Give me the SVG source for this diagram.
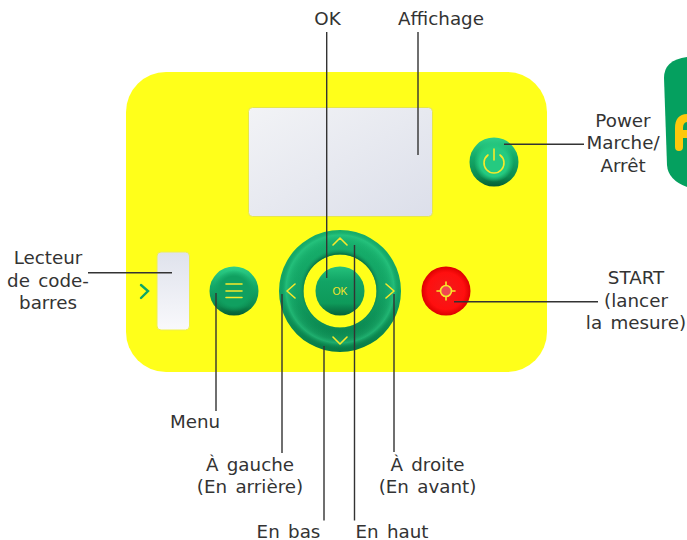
<svg xmlns="http://www.w3.org/2000/svg" width="687" height="540" viewBox="0 0 687 540">
<style>
.t{font-family:"DejaVu Sans",Verdana,sans-serif;font-size:18.300px;fill:#333;text-anchor:middle;word-spacing:2.500px}
.l{stroke:#333;stroke-width:1.4;fill:none}
.y{stroke:#f7e92a;stroke-width:1.6;fill:none;stroke-linecap:round;stroke-linejoin:round}
</style>
<defs>
<linearGradient id="b" x1="0" y1="0" x2="0" y2="1"><stop offset="0" stop-color="#2ed088"/><stop offset=".4" stop-color="#14a968"/><stop offset=".8" stop-color="#0c8a50"/><stop offset="1" stop-color="#055c33"/></linearGradient>
<radialGradient id="g" cx="50%" cy="50%" r="50%"><stop offset="0" stop-color="#10a060"/><stop offset=".7" stop-color="#10a060"/><stop offset="1" stop-color="#10a060" stop-opacity="0"/></radialGradient>
<radialGradient id="p" cx="50%" cy="50%" r="50%"><stop offset="0" stop-color="#25ca80"/><stop offset=".72" stop-color="#25ca80"/><stop offset="1" stop-color="#25ca80" stop-opacity="0"/></radialGradient>
<linearGradient id="ok" x1="0" y1="0" x2="0" y2="1"><stop offset="0" stop-color="#24c27c"/><stop offset=".3" stop-color="#12a465"/><stop offset=".75" stop-color="#0e9a5a"/><stop offset="1" stop-color="#06613a"/></linearGradient>
<radialGradient id="r" cx="50%" cy="50%" r="50%"><stop offset="0" stop-color="#f01c1c"/><stop offset=".75" stop-color="#ff0f0f"/><stop offset="1" stop-color="#dd0000"/></radialGradient>
<linearGradient id="ringb" x1="0" y1="0" x2="0" y2="1"><stop offset="0" stop-color="#17b06c"/><stop offset=".5" stop-color="#12a263"/><stop offset="1" stop-color="#087a46"/></linearGradient>
<radialGradient id="rings" gradientUnits="userSpaceOnUse" cx="340" cy="289" r="60"><stop offset=".58" stop-color="#05633a" stop-opacity=".85"/><stop offset=".68" stop-color="#12a565" stop-opacity="0"/><stop offset=".84" stop-color="#30d28a" stop-opacity=".25"/><stop offset=".9" stop-color="#30d28a" stop-opacity=".55"/><stop offset="1" stop-color="#0a8a50" stop-opacity="0"/></radialGradient>
<linearGradient id="d" x1="0" y1="0" x2="1" y2="1"><stop offset="0" stop-color="#f2f3f6"/><stop offset="1" stop-color="#dcdfea"/></linearGradient>
<linearGradient id="s" x1="0" y1="0" x2="0" y2="1"><stop offset="0" stop-color="#dfe2ec"/><stop offset="1" stop-color="#f9f9fc"/></linearGradient>
</defs>
<g id="panel"><rect x="126" y="72" width="421" height="300" rx="40" fill="#ffff1a"/></g>
<g id="logo"><path d="M687 57Q664 60 664 78L667 165Q668 180 687 187Z" fill="#05a05f"/><path d="M679 147V128Q679 118 688 118M679 134H688" fill="none" stroke="#fdc80c" stroke-width="8" stroke-linecap="round"/></g>
<g id="display"><rect x="248.500" y="107.500" width="184" height="109" rx="4" fill="url(#d)" stroke="#e6e64a"/></g>
<g id="scanner"><rect x="157" y="252" width="32.500" height="78" rx="4" fill="url(#s)" stroke="#f0f04a"/><path d="M141 285L148 291L141 298" fill="none" stroke="#0da765" stroke-width="2.400" stroke-linecap="round"/></g>
<g id="btn-menu"><circle cx="234" cy="291" r="24.500" fill="url(#b)"/><circle cx="234" cy="291" r="21" fill="url(#g)"/><path class="y" d="M226 284H242M226 291H242M226 297.500H242"/></g>
<g id="btn-ring"><path d="M340 230a61 61 0 1 0 .01 0ZM340 254.500a36.500 36.500 0 1 1 -.01 0Z" fill="url(#ringb)" fill-rule="evenodd"/><path d="M340 230a61 61 0 1 0 .01 0ZM340 254.500a36.500 36.500 0 1 1 -.01 0Z" fill="url(#rings)" fill-rule="evenodd"/>
<path class="y" d="M333 245L340 238L347 245M295 284L287 291L295 298M386 284L394 291L386 298M333 337L340 344L347 337"/></g>
<g id="btn-ok"><circle cx="340" cy="291" r="24.500" fill="url(#ok)"/><text x="340" y="294.500" text-anchor="middle" font-family="'Liberation Sans',Arial,sans-serif" font-size="10.500" fill="#f2e52a">OK</text></g>
<g id="btn-start"><circle cx="446" cy="291" r="24.500" fill="url(#r)"/><circle cx="446" cy="291" r="5.500" fill="#f0474f" stroke="#f7e92a" stroke-width="1.600"/><path class="y" d="M437 291H440.500M451.500 291H455M446 282V285.500M446 296.500V300"/></g>
<g id="btn-power"><circle cx="494" cy="162" r="24.500" fill="url(#b)"/><circle cx="494" cy="162" r="20" fill="url(#p)"/><path class="y" d="M488 155A10 10 0 1 0 500 155M494 149V160"/></g>
<g id="connectors">
<path class="l" d="M326.700 32V278M418 32V155M504 144.300H584M88 272.700H172M216 293V411M282 294V453M324 346V520.500M354.500 245V520.500M394 294V452M454 301.700H598"/>
</g>
<g id="labels">
<text class="t" x="327.500" y="25">OK</text>
<text class="t" x="441" y="25">Affichage</text>
<text class="t" x="623" y="127">Power</text>
<text class="t" x="623" y="149">Marche/</text>
<text class="t" x="623" y="172">Arrêt</text>
<text class="t" x="48" y="264">Lecteur</text>
<text class="t" x="48" y="287">de code-</text>
<text class="t" x="48" y="309">barres</text>
<text class="t" x="636" y="284">START</text>
<text class="t" x="636" y="307">(lancer</text>
<text class="t" x="636" y="329">la mesure)</text>
<text class="t" x="195" y="428">Menu</text>
<text class="t" x="250" y="471">À gauche</text>
<text class="t" x="250" y="493">(En arrière)</text>
<text class="t" x="427.500" y="471">À droite</text>
<text class="t" x="427.500" y="493">(En avant)</text>
<text class="t" x="288.500" y="537.500">En bas</text>
<text class="t" x="392" y="537.500">En haut</text>
</g>
</svg>
